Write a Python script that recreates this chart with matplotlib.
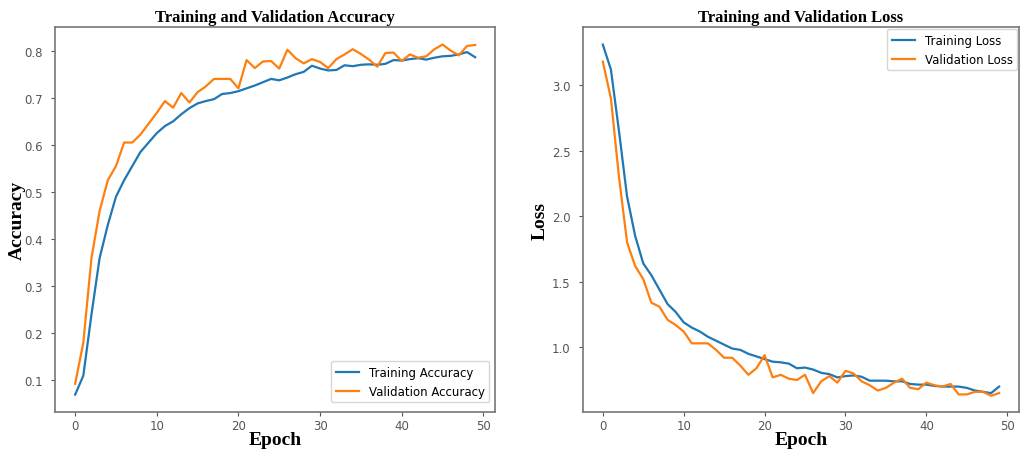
import numpy as np
import matplotlib
matplotlib.use("Agg")
import matplotlib.pyplot as plt

# Per-epoch history
epochs = list(range(50))

train_acc = [0.07, 0.11, 0.24, 0.36, 0.43, 0.49, 0.525, 0.555, 0.585, 0.605,
             0.625, 0.64, 0.65, 0.665, 0.678, 0.688, 0.693, 0.697, 0.708, 0.71,
             0.714, 0.72, 0.726, 0.733, 0.74, 0.737, 0.743, 0.75, 0.755, 0.768,
             0.762, 0.758, 0.759, 0.769, 0.767, 0.77, 0.771, 0.77, 0.772, 0.78,
             0.779, 0.782, 0.784, 0.781, 0.785, 0.788, 0.789, 0.792, 0.797, 0.786]
val_acc = [0.093, 0.18, 0.36, 0.46, 0.525, 0.555, 0.605, 0.605, 0.622, 0.645,
           0.668, 0.693, 0.679, 0.71, 0.69, 0.712, 0.724, 0.74, 0.74, 0.74,
           0.72, 0.78, 0.763, 0.777, 0.778, 0.762, 0.802, 0.784, 0.773, 0.782,
           0.776, 0.763, 0.782, 0.792, 0.803, 0.793, 0.781, 0.766, 0.795, 0.796,
           0.778, 0.792, 0.785, 0.788, 0.803, 0.813, 0.8, 0.79, 0.81, 0.812]

train_loss = [3.31, 3.12, 2.65, 2.15, 1.85, 1.64, 1.55, 1.44, 1.33, 1.27,
              1.19, 1.15, 1.12, 1.08, 1.05, 1.02, 0.99, 0.98, 0.95, 0.93,
              0.91, 0.89, 0.885, 0.875, 0.84, 0.845, 0.83, 0.805, 0.795, 0.77,
              0.78, 0.785, 0.775, 0.745, 0.745, 0.745, 0.74, 0.74, 0.72, 0.715,
              0.715, 0.705, 0.70, 0.70, 0.70, 0.69, 0.67, 0.66, 0.65, 0.70]
val_loss = [3.18, 2.90, 2.30, 1.80, 1.62, 1.52, 1.34, 1.31, 1.21, 1.17,
            1.12, 1.03, 1.03, 1.03, 0.98, 0.92, 0.92, 0.86, 0.79, 0.84,
            0.94, 0.77, 0.79, 0.76, 0.75, 0.79, 0.65, 0.74, 0.78, 0.73,
            0.82, 0.80, 0.74, 0.71, 0.67, 0.69, 0.73, 0.76, 0.69, 0.68,
            0.73, 0.71, 0.70, 0.72, 0.64, 0.64, 0.66, 0.66, 0.63, 0.65]

title_font = dict(family="Liberation Serif", weight="bold", size=12)
label_font = dict(family="Liberation Serif", weight="bold", size=14)

fig = plt.figure(figsize=(10.21, 4.52), dpi=100)
ax1 = fig.add_axes([0.054, 0.086, 0.431, 0.852])
ax2 = fig.add_axes([0.571, 0.086, 0.427, 0.852])

ax1.plot(epochs, train_acc, color="tab:blue", lw=1.6, label="Training Accuracy")
ax1.plot(epochs, val_acc, color="tab:orange", lw=1.6, label="Validation Accuracy")
ax1.set_title("Training and Validation Accuracy", pad=4, **title_font)
ax1.set_xlabel("Epoch", labelpad=-1, **label_font)
ax1.set_ylabel("Accuracy", labelpad=-1, **label_font)
ax1.legend(loc="lower right", fontsize=8.5, bbox_to_anchor=(1.0, 0.01))

ax2.plot(epochs, train_loss, color="tab:blue", lw=1.6, label="Training Loss")
ax2.plot(epochs, val_loss, color="tab:orange", lw=1.6, label="Validation Loss")
ax2.set_title("Training and Validation Loss", pad=4, **title_font)
ax2.set_xlabel("Epoch", labelpad=-1, **label_font)
ax2.set_ylabel("Loss", labelpad=2, **label_font)
ax2.legend(loc="upper right", fontsize=8.5, bbox_to_anchor=(1.01, 1.01))
ax2.set_ylim(bottom=0.505)

for ax in (ax1, ax2):
    ax.set_xticks([0, 10, 20, 30, 40, 50])
    ax.tick_params(labelsize=8.5, colors="#555555", length=3)
    ax.tick_params(axis="x", pad=2)
    ax.tick_params(axis="y", pad=6)
    for sp in ax.spines.values():
        sp.set_color("#777777")
        sp.set_linewidth(1.2)

fig.savefig("out.png", dpi=100)
